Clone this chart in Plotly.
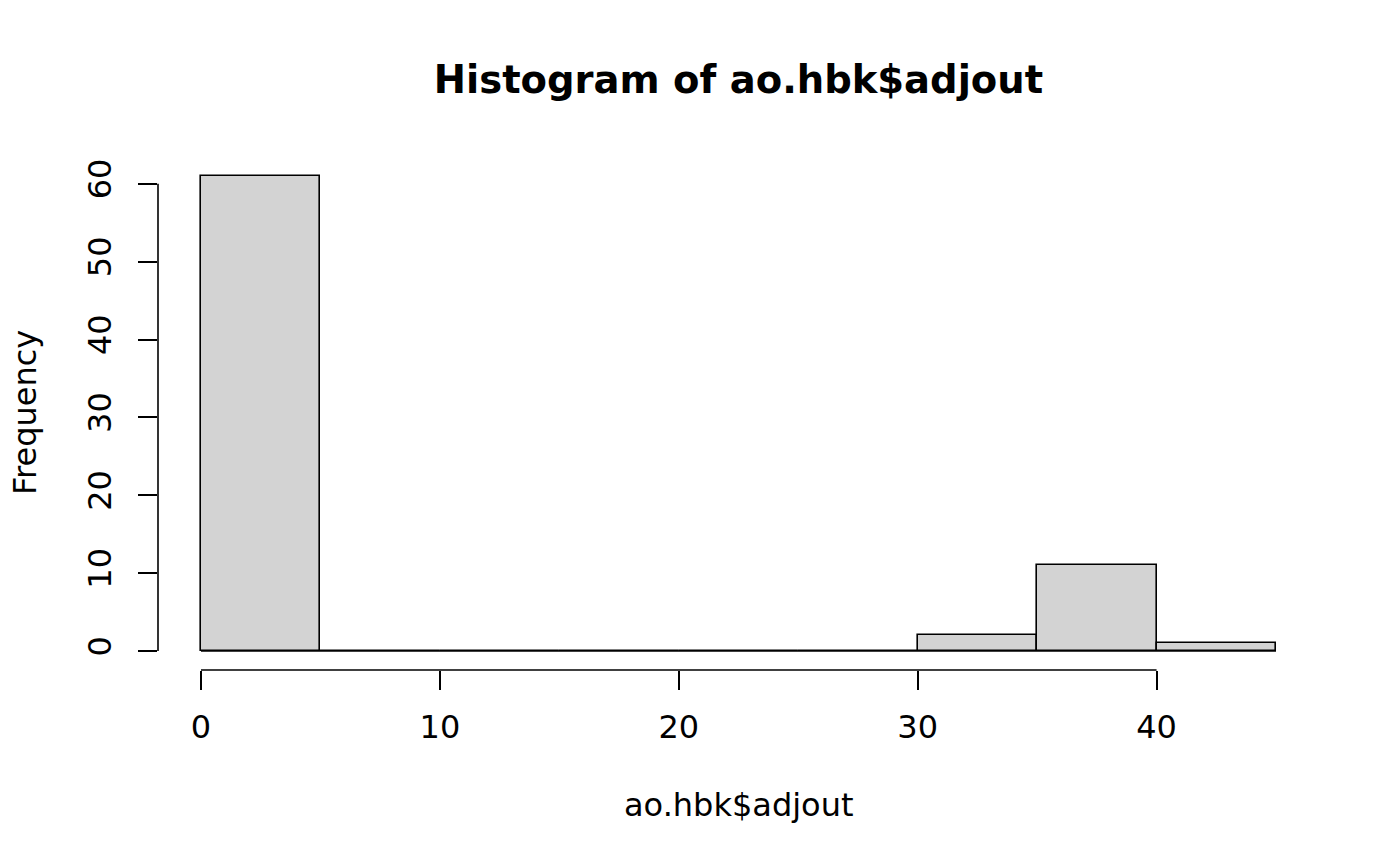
import plotly.graph_objects as go

# Histogram data (bins of width 5)
bin_edges = [0, 5, 10, 15, 20, 25, 30, 35, 40, 45]
counts = [61, 0, 0, 0, 0, 0, 2, 11, 1]
x_ticks = [0, 10, 20, 30, 40]
y_ticks = [0, 10, 20, 30, 40, 50, 60]

title_text = "Histogram of ao.hbk$adjout"
x_label = "ao.hbk$adjout"
y_label = "Frequency"

centers = [(a + b) / 2 for a, b in zip(bin_edges[:-1], bin_edges[1:])]
widths = [b - a for a, b in zip(bin_edges[:-1], bin_edges[1:])]

FONT = "DejaVu Sans"
LW = 1.6
FS = 32

fig = go.Figure()
fig.add_trace(go.Bar(
    x=centers, y=counts, width=widths,
    marker=dict(color="#D3D3D3", line=dict(color="black", width=LW)),
    hoverinfo="skip", showlegend=False,
))
# baseline along bottom of all bins (zero-height bins drawn as lines in R)
fig.add_trace(go.Scatter(
    x=[bin_edges[0], bin_edges[-1]], y=[0, 0], mode="lines",
    line=dict(color="black", width=LW), hoverinfo="skip", showlegend=False,
))

xr = [bin_edges[0] - 0.04 * (bin_edges[-1] - bin_edges[0]),
      bin_edges[-1] + 0.04 * (bin_edges[-1] - bin_edges[0])]
ymax = max(counts)
yr = [-0.04 * ymax, ymax * 1.04]

fig.update_layout(
    width=1400, height=866,
    paper_bgcolor="white", plot_bgcolor="white",
    margin=dict(l=158, r=81, t=157, b=196),
    font=dict(family=FONT, size=FS, color="black"),
    title=dict(text="<b>" + title_text + "</b>", x=0.5275, xanchor="center",
               y=1 - 80 / 866, yanchor="middle", yref="container",
               font=dict(family=FONT, size=38.5, color="black")),
    bargap=0,
    xaxis=dict(range=xr, tickvals=x_ticks, ticktext=[str(v) for v in x_ticks],
               showgrid=False, zeroline=False, showline=False,
               ticks="outside", ticklen=19, tickwidth=LW, tickcolor="black",
               ticklabelstandoff=10, tickfont=dict(size=FS)),
    yaxis=dict(range=yr, tickvals=y_ticks, ticktext=[str(v) for v in y_ticks],
               showgrid=False, zeroline=False, showline=False,
               ticks="outside", ticklen=19, tickwidth=LW, tickcolor="black",
               tickangle=-90, ticklabelstandoff=14, tickfont=dict(size=FS)),
)

# R-style axis lines spanning first to last tick
fig.add_shape(type="line", xref="x", yref="paper", x0=x_ticks[0], x1=x_ticks[-1],
              y0=0, y1=0, line=dict(color="black", width=LW))
fig.add_shape(type="line", xref="paper", yref="y", x0=0, x1=0,
              y0=y_ticks[0], y1=y_ticks[-1], line=dict(color="black", width=LW))

fig.add_annotation(text=x_label, xref="paper", yref="paper", x=0.5, y=(866 - 805 - 196) / 513,
                   xanchor="center", yanchor="middle", showarrow=False,
                   font=dict(family=FONT, size=FS, color="black"))
fig.add_annotation(text=y_label, xref="paper", yref="paper", x=(25 - 158) / 1161,
                   y=(866 - 196 - 413) / 513, textangle=-90,
                   xanchor="center", yanchor="middle", showarrow=False,
                   font=dict(family=FONT, size=FS, color="black"))

fig.write_html("out.html", config={"displayModeBar": False},
               post_script="document.body.style.margin='0';")
